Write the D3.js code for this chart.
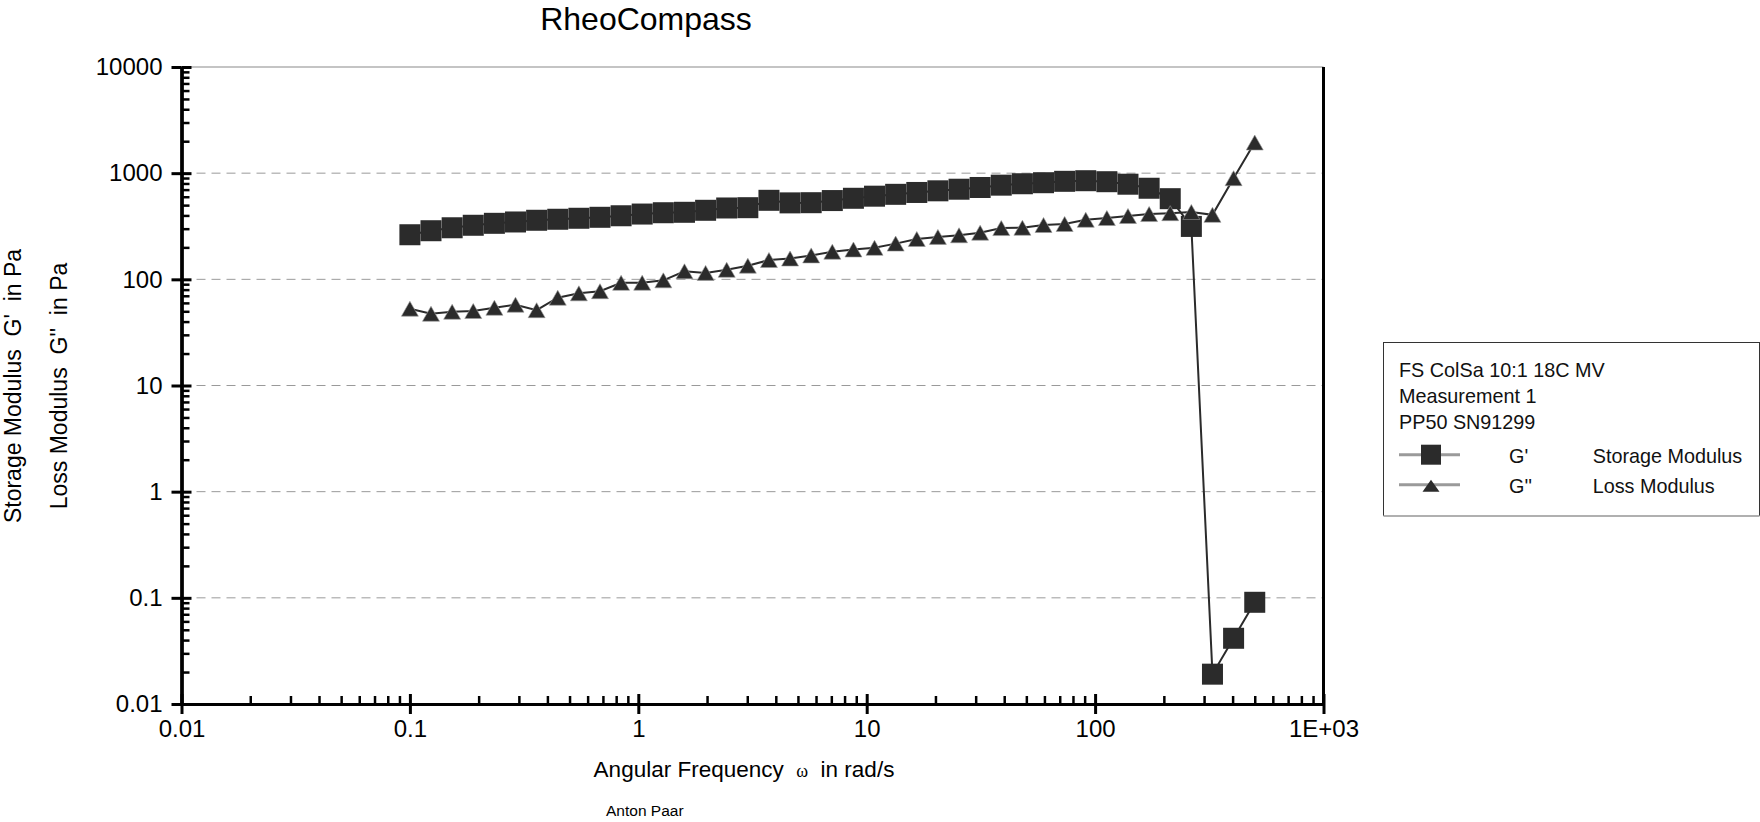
<!DOCTYPE html>
<html>
<head>
<meta charset="utf-8">
<script src="https://cdn.jsdelivr.net/npm/d3@7"></script>
<style>
body { margin: 0; background: #fff; }
svg { display: block; font-family: "Liberation Sans", Arial, sans-serif; }
.axis .domain { stroke: #000; stroke-width: 3; }
.axis .tick line { stroke: #000; stroke-width: 3; }
.axis.minor .tick line { stroke-width: 2.5; }
.axis text { font-size: 24px; fill: #000; font-family: "Liberation Sans", Arial, sans-serif; }
.grid { stroke: #9a9a9a; stroke-width: 1; stroke-dasharray: 9 6; }
</style>
</head>
<body>
<svg width="1760" height="822"></svg>
<script>
// angular frequency, rad/s
const omega = [0.1, 0.1237, 0.1531, 0.1894, 0.2344, 0.29, 0.3588, 0.4439, 0.5493, 0.6796,
  0.8408, 1.04, 1.287, 1.593, 1.971, 2.438, 3.017, 3.733, 4.618, 5.714,
  7.07, 8.748, 10.82, 13.39, 16.57, 20.5, 25.37, 31.38, 38.83, 48.05,
  59.45, 73.55, 91.01, 112.6, 139.3, 172.4, 213.3, 263.9, 326.5, 404, 500];

// G' storage modulus, Pa
const storageMod = [263, 287, 306, 323, 337, 347, 360, 368, 376, 384,
  397, 412, 424, 428, 447, 470, 473, 555, 525, 527,
  552, 580, 607, 632, 658, 682, 706, 733, 771, 795,
  813, 838, 849, 831, 787, 721, 575, 315, 0.0191, 0.0416, 0.0908];

// G'' loss modulus, Pa
const lossMod = [52.9, 47.4, 49.5, 50.3, 54, 57.7, 51.2, 67.1, 73.8, 77.3,
  92.7, 92.9, 97.8, 119, 115, 123, 134.5, 152, 157, 168,
  182, 191, 198, 217, 240, 251, 260, 275, 304, 306,
  325, 332, 364, 378, 395, 412, 420, 431, 405, 897, 1944];

const xTickVals = [0.01, 0.1, 1, 10, 100, 1000];
const xTickLabels = ["0.01", "0.1", "1", "10", "100", "1E+03"];
const yTickVals = [0.01, 0.1, 1, 10, 100, 1000, 10000];
const yTickLabels = ["0.01", "0.1", "1", "10", "100", "1000", "10000"];
const legendLines = ["FS ColSa 10:1 18C MV", "Measurement 1", "PP50 SN91299"];
const seriesNames = [["G'", "Storage Modulus"], ["G''", "Loss Modulus"]];

const svg = d3.select('svg');
const plotL = 181.5, plotR = 1323.5, plotT = 67, plotB = 704;
const ink = '#2b2b2b';

const x = d3.scaleLog().domain([0.01, 1000]).range([plotL, plotR]);
const y = d3.scaleLog().domain([0.01, 10000]).range([plotB, plotT]);

const isMajor = d => Math.abs(Math.log10(d) - Math.round(Math.log10(d))) < 1e-9;

// title
svg.append('text')
  .attr('x', 646).attr('y', 30)
  .attr('text-anchor', 'middle')
  .style('font-size', '32px')
  .text('RheoCompass');

// grid lines
svg.append('g').selectAll('line')
  .data(yTickVals.filter(d => d > 0.01 && d < 10000))
  .enter().append('line')
  .attr('class', 'grid')
  .attr('x1', plotL).attr('x2', plotR)
  .attr('y1', d => y(d)).attr('y2', d => y(d));

// top border
svg.append('line')
  .attr('x1', plotL).attr('x2', plotR)
  .attr('y1', plotT).attr('y2', plotT)
  .attr('stroke', '#8a8a8a').attr('stroke-width', 1.2);

// x axis
svg.append('g').attr('class', 'axis minor')
  .attr('transform', `translate(0,${plotB})`)
  .call(d3.axisBottom(x).tickValues(x.ticks().filter(d => !isMajor(d)))
    .tickSize(-8).tickSizeOuter(0).tickFormat(''));
svg.append('g').attr('class', 'axis')
  .attr('transform', `translate(0,${plotB})`)
  .call(d3.axisBottom(x).tickValues(xTickVals)
    .tickSize(-10).tickSizeOuter(0).tickFormat(''));
svg.append('g').attr('class', 'axis')
  .attr('transform', `translate(0,${plotB})`)
  .call(d3.axisBottom(x).tickValues(xTickVals)
    .tickSize(10).tickSizeOuter(0).tickPadding(6)
    .tickFormat((d, i) => xTickLabels[i]));

// y axis
svg.append('g').attr('class', 'axis minor')
  .attr('transform', `translate(${plotL},0)`)
  .call(d3.axisLeft(y).tickValues(y.ticks().filter(d => !isMajor(d)))
    .tickSize(-8).tickSizeOuter(0).tickFormat(''));
svg.append('g').attr('class', 'axis')
  .attr('transform', `translate(${plotL},0)`)
  .call(d3.axisLeft(y).tickValues(yTickVals)
    .tickSize(-10).tickSizeOuter(0).tickFormat(''));
svg.append('g').attr('class', 'axis')
  .attr('transform', `translate(${plotL},0)`)
  .call(d3.axisLeft(y).tickValues(yTickVals)
    .tickSize(10).tickSizeOuter(0).tickPadding(9)
    .tickFormat((d, i) => yTickLabels[i]));

// right border
svg.append('line')
  .attr('x1', plotR).attr('x2', plotR)
  .attr('y1', plotT).attr('y2', plotB)
  .attr('stroke', '#000').attr('stroke-width', 3);

// axis titles
svg.append('text')
  .attr('x', 744).attr('y', 777)
  .attr('text-anchor', 'middle')
  .style('font-size', '22.5px')
  .style('white-space', 'pre')
  .call(t => {
    t.append('tspan').text('Angular Frequency  ');
    t.append('tspan').style('font-family', '"Liberation Serif", serif').style('font-size', '18px').text('ω');
    t.append('tspan').text('  in rad/s');
  });

svg.append('text')
  .attr('transform', 'translate(21,386) rotate(-90)')
  .attr('text-anchor', 'middle')
  .style('font-size', '23px')
  .style('white-space', 'pre')
  .text("Storage Modulus  G'  in Pa");

svg.append('text')
  .attr('transform', 'translate(67,386) rotate(-90)')
  .attr('text-anchor', 'middle')
  .style('font-size', '23px')
  .style('white-space', 'pre')
  .text("Loss Modulus  G''  in Pa");

svg.append('text')
  .attr('x', 606).attr('y', 816)
  .style('font-size', '15.5px')
  .text('Anton Paar');

// data
const gData = omega.map((w, i) => [w, storageMod[i]]);
const lData = omega.map((w, i) => [w, lossMod[i]]);
const line = d3.line().x(d => x(d[0])).y(d => y(d[1]));
const sq = 21;
const tri = 'M0,-7.5L8.5,7.5L-8.5,7.5Z';

svg.append('path').datum(gData)
  .attr('d', line).attr('fill', 'none')
  .attr('stroke', ink).attr('stroke-width', 2);
svg.append('g').selectAll('rect')
  .data(gData).enter().append('rect')
  .attr('x', d => x(d[0]) - sq / 2)
  .attr('y', d => y(d[1]) - sq / 2)
  .attr('width', sq).attr('height', sq)
  .attr('fill', ink);

svg.append('path').datum(lData)
  .attr('d', line).attr('fill', 'none')
  .attr('stroke', ink).attr('stroke-width', 2);
svg.append('g').selectAll('path')
  .data(lData).enter().append('path')
  .attr('d', tri)
  .attr('transform', d => `translate(${x(d[0])},${y(d[1])})`)
  .attr('fill', ink)
  .attr('stroke', '#9a9a9a').attr('stroke-width', 0.6);

// legend
const lg = svg.append('g').attr('transform', 'translate(1383,342)');
lg.append('rect')
  .attr('x', 0.5).attr('y', 0.5)
  .attr('width', 376).attr('height', 173)
  .attr('fill', '#fff').attr('stroke', '#333').attr('stroke-width', 1);
lg.append('line')
  .attr('x1', 0.5).attr('x2', 376.5).attr('y1', 174).attr('y2', 174)
  .attr('stroke', '#b0b0b0').attr('stroke-width', 2);

lg.selectAll('.hdr').data(legendLines).enter().append('text')
  .attr('class', 'hdr')
  .attr('x', 16).attr('y', (d, i) => 35 + i * 26.2)
  .style('font-size', '19.8px').attr('fill', '#111')
  .text(d => d);

const rows = lg.selectAll('.row').data(seriesNames).enter().append('g')
  .attr('class', 'row')
  .attr('transform', (d, i) => `translate(0,${112.7 + i * 30})`);
rows.append('line')
  .attr('x1', 16).attr('x2', 77).attr('y1', 0).attr('y2', 0)
  .attr('stroke', '#9a9a9a').attr('stroke-width', 3);
rows.filter((d, i) => i === 0).append('rect')
  .attr('x', 38).attr('y', -10).attr('width', 20).attr('height', 20)
  .attr('fill', ink);
rows.filter((d, i) => i === 1).append('path')
  .attr('d', 'M0,-6L8.5,6L-8.5,6Z')
  .attr('transform', 'translate(48,1)')
  .attr('fill', ink);
rows.append('text')
  .attr('x', 126).attr('y', 8.5)
  .style('font-size', '19.8px').attr('fill', '#111')
  .text(d => d[0]);
rows.append('text')
  .attr('x', 209.7).attr('y', 8.5)
  .style('font-size', '19.8px').attr('fill', '#111')
  .text(d => d[1]);
</script>
</body>
</html>
